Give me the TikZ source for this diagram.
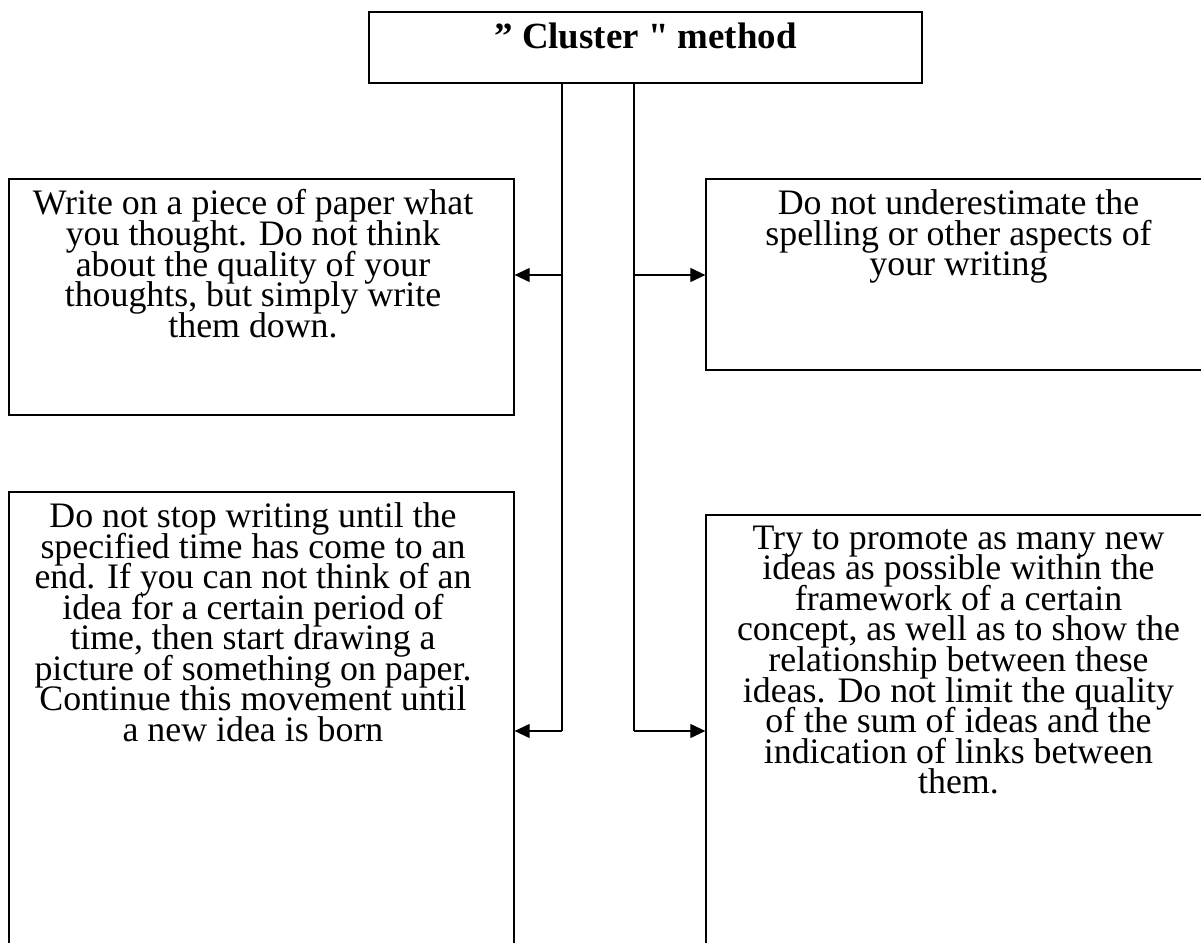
\documentclass[tikz,border=0pt]{standalone}
\usepackage{fontspec}
\setmainfont{Liberation Serif}
\usetikzlibrary{positioning,arrows.meta}

\tikzset{
  box/.style={draw, line width=0.8pt, rectangle, minimum width=10.1cm, inner sep=0pt},
  txt/.style={inner sep=0pt, align=center,
    font={\fontsize{20.4pt}{17.4pt}\selectfont\lineskiplimit=-20pt}},
  link/.style={line width=0.7pt},
  arrow/.style={line width=0.7pt, -{Triangle[length=0.3cm,width=0.28cm]}}
}

\begin{document}
\begin{tikzpicture}[x=0.02cm,y=-0.02cm]
  \useasboundingbox (0,0) rectangle (1201,943);

  % boxes
  \node[box, minimum width=11.06cm, minimum height=1.42cm] (title) at (645.5,47.5) {};
  \node[box, minimum height=4.72cm] (tl) at (261.5,297) {};
  \node[box, minimum height=3.82cm] (tr) at (958.5,274.5) {};
  \node[box, minimum height=10.16cm] (bl) at (261.5,746) {};
  \node[box, minimum height=9.7cm] (br) at (958.5,757.5) {};

  % texts
  \node[txt, font={\fontsize{21pt}{17.4pt}\selectfont\bfseries}, below=0.22cm of title.north] (titletxt) {” Cluster \textquotedbl{} method};
  \node[txt, below=0.22cm of tl.north, xshift=-0.17cm] (tltxt) {Write on a piece of paper what\\ you thought. Do not think\\ about the quality of your\\ thoughts, but simply write\\ them down.};
  \node[txt, below=0.22cm of tr.north] (trtxt) {Do not underestimate the\\ spelling or other aspects of\\ your writing};
  \node[txt, below=0.22cm of bl.north, xshift=-0.17cm] (bltxt) {Do not stop writing until the\\ specified time has come to an\\ end. If you can not think of an\\ idea for a certain period of\\ time, then start drawing a\\ picture of something on paper.\\ Continue this movement until\\ a new idea is born};
  \node[txt, below=0.22cm of br.north] (brtxt) {Try to promote as many new\\ ideas as possible within the\\ framework of a certain\\ concept, as well as to show the\\ relationship between these\\ ideas. Do not limit the quality\\ of the sum of ideas and the\\ indication of links between\\ them.};

  % connectors
  \coordinate (ltop) at (562,83);
  \coordinate (lmid) at (562,275);
  \coordinate (lend) at (562,731);
  \coordinate (rtop) at (634,83);
  \coordinate (rmid) at (634,275);
  \coordinate (rend) at (634,731);

  \draw[link] (ltop) -- (lend);
  \draw[link] (rtop) -- (rend);
  \draw[arrow] (lmid) -- (lmid -| tl.east);
  \draw[arrow] (lend) -- (lend -| bl.east);
  \draw[arrow] (rmid) -- (rmid -| tr.west);
  \draw[arrow] (rend) -- (rend -| br.west);
\end{tikzpicture}
\end{document}
